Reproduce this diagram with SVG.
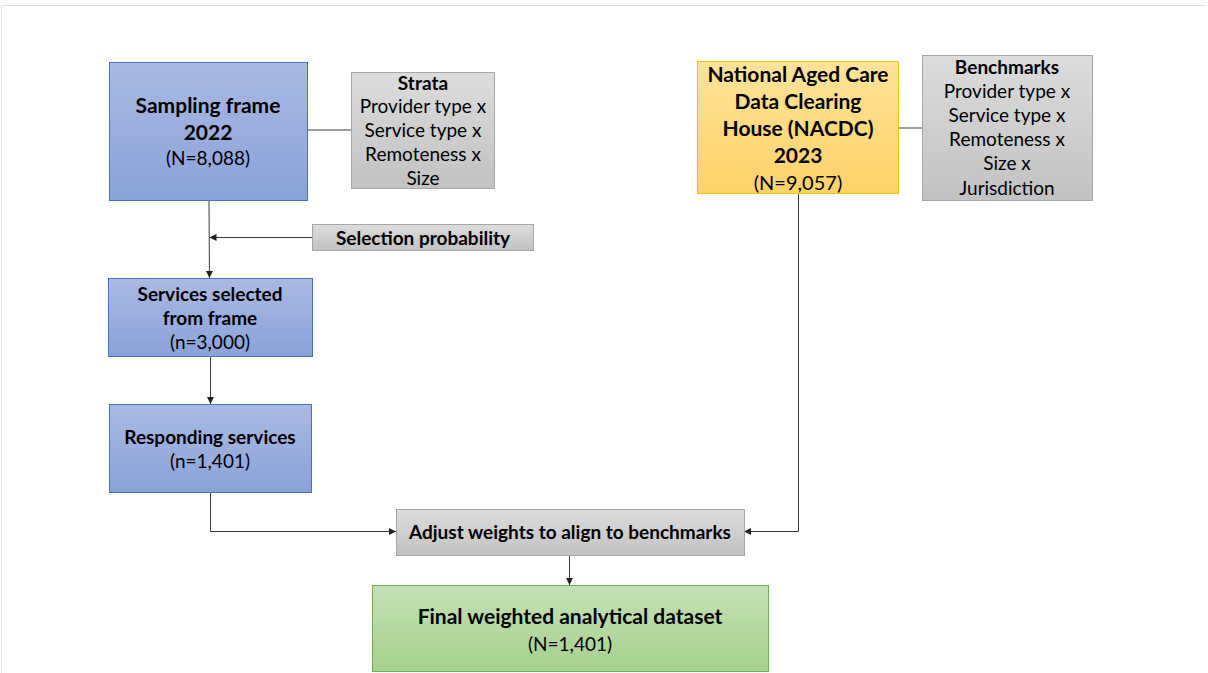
<svg xmlns="http://www.w3.org/2000/svg" width="1208" height="673" viewBox="0 0 1208 673">
<style>
text{font-family:Lato,"Liberation Sans",sans-serif;fill:#000;text-anchor:middle}
.b{font-weight:bold}
.s{font-size:19px}
.l{font-size:21px}
.conn{fill:none;stroke:#3a3a3a;stroke-width:1}
.blue{stroke:#4472c4;stroke-width:1;fill:url(#gBlue)}
.gray{stroke:#a6a6a6;stroke-width:1;fill:url(#gGray)}
</style>
<defs>
<linearGradient id="gBlue" x1="0" y1="0" x2="0" y2="1"><stop offset="0" stop-color="#abb9e2"/><stop offset="1" stop-color="#8aa2d9"/></linearGradient>
<linearGradient id="gGray" x1="0" y1="0" x2="0" y2="1"><stop offset="0" stop-color="#dcdcdc"/><stop offset="1" stop-color="#c2c2c2"/></linearGradient>
<linearGradient id="gOrange" x1="0" y1="0" x2="0" y2="1"><stop offset="0" stop-color="#ffe39a"/><stop offset="1" stop-color="#ffd26a"/></linearGradient>
<linearGradient id="gGreen" x1="0" y1="0" x2="0" y2="1"><stop offset="0" stop-color="#c6e0b6"/><stop offset="1" stop-color="#a6d08c"/></linearGradient>
<marker id="arr" viewBox="0 0 10 10" refX="10" refY="5" markerWidth="7" markerHeight="7" markerUnits="userSpaceOnUse" orient="auto"><path d="M0,0 L10,5 L0,10 z" fill="#222"/></marker>
</defs>
<rect x="0" y="0" width="1208" height="673" fill="#fff"/>
<path d="M1.5,673 V5.5 H1206" fill="none" stroke="#e0e0e0" stroke-width="1"/>

<g id="connectors">
<line class="conn" x1="307" y1="130" x2="351" y2="130"/>
<line class="conn" x1="898" y1="128" x2="922" y2="128"/>
<line class="conn" x1="209" y1="200" x2="209.5" y2="278" marker-end="url(#arr)"/>
<line class="conn" x1="312" y1="237.5" x2="209.5" y2="237.5" marker-end="url(#arr)"/>
<line class="conn" x1="210.5" y1="356" x2="210.5" y2="404" marker-end="url(#arr)"/>
<path class="conn" d="M210.5,492 V531.5 H396" marker-end="url(#arr)"/>
<path class="conn" d="M798.5,193 V531.5 H744" marker-end="url(#arr)"/>
<line class="conn" x1="569.5" y1="555" x2="569.5" y2="585" marker-end="url(#arr)"/>
</g>

<g id="sampling-frame">
<rect class="blue" x="109.5" y="62.5" width="198" height="138"/>
<text class="b l" x="208" y="113">Sampling frame</text>
<text class="b l" x="208" y="140">2022</text>
<text class="s" x="208" y="165">(N=8,088)</text>
</g>

<g id="strata">
<rect class="gray" x="351.5" y="72.5" width="143" height="116"/>
<text class="b s" x="423" y="90">Strata</text>
<text class="s" x="423" y="113">Provider type x</text>
<text class="s" x="423" y="137">Service type x</text>
<text class="s" x="423" y="161">Remoteness x</text>
<text class="s" x="423" y="185">Size</text>
</g>

<g id="selection-probability">
<rect class="gray" x="312.5" y="224.5" width="221" height="26"/>
<text class="b s" x="423" y="245">Selection probability</text>
</g>

<g id="services-selected">
<rect class="blue" x="108.5" y="278.5" width="204" height="78"/>
<text class="b s" x="210" y="301">Services selected</text>
<text class="b s" x="210" y="325">from frame</text>
<text class="s" x="210" y="349">(n=3,000)</text>
</g>

<g id="responding-services">
<rect class="blue" x="109.5" y="404.5" width="202" height="88"/>
<text class="b s" x="210" y="444">Responding services</text>
<text class="s" x="210" y="468">(n=1,401)</text>
</g>

<g id="nacdc">
<rect x="697.5" y="61.5" width="201" height="132" fill="url(#gOrange)" stroke="#ffc000" stroke-width="1"/>
<text class="b l" x="798" y="82">National Aged Care</text>
<text class="b l" x="798" y="109">Data Clearing</text>
<text class="b l" x="798" y="136">House (NACDC)</text>
<text class="b l" x="798" y="163">2023</text>
<text x="798" y="190" font-size="20">(N=9,057)</text>
</g>

<g id="benchmarks">
<rect class="gray" x="922.5" y="55.5" width="170" height="145"/>
<text class="b s" x="1007" y="74">Benchmarks</text>
<text class="s" x="1007" y="98">Provider type x</text>
<text class="s" x="1007" y="122">Service type x</text>
<text class="s" x="1007" y="146">Remoteness x</text>
<text class="s" x="1007" y="170">Size x</text>
<text class="s" x="1007" y="195">Jurisdiction</text>
</g>

<g id="adjust-weights">
<rect class="gray" x="396.5" y="509.5" width="348" height="46"/>
<text class="b s" x="570" y="539">Adjust weights to align to benchmarks</text>
</g>

<g id="final-dataset">
<rect x="372.5" y="585.5" width="396" height="86" fill="url(#gGreen)" stroke="#70ad47" stroke-width="1"/>
<text class="b l" x="570" y="624">Final weighted analytical dataset</text>
<text class="s" x="570" y="651">(N=1,401)</text>
</g>
</svg>
